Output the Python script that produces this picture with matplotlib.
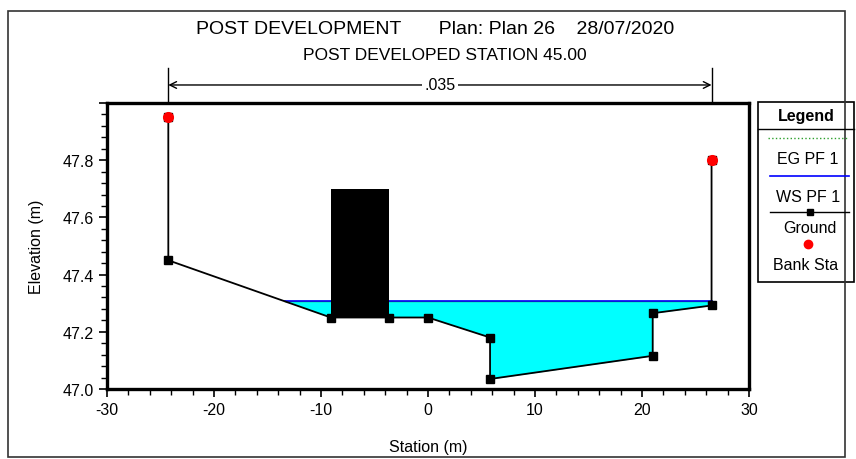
import numpy as np
import matplotlib
matplotlib.use("Agg")
import matplotlib.pyplot as plt
from matplotlib.lines import Line2D
from matplotlib.patches import Rectangle
from matplotlib.ticker import MultipleLocator, FuncFormatter

plt.rcParams['font.family'] = ['Liberation Sans', 'DejaVu Sans']
plt.rcParams['axes.unicode_minus'] = False

# Cross-section ground points (station, elevation)
ground_sta = [-24.27, -24.27, -9.09, -3.67, 0.0, 5.8, 5.8, 21.0, 21.0, 26.5, 26.5]
ground_elev = [47.95, 47.45, 47.25, 47.25, 47.25, 47.18, 47.035, 47.116, 47.265, 47.292, 47.80]

# Bank stations
bank_sta = [-24.27, 26.5]
bank_elev = [47.95, 47.80]

# Water surface and energy grade for profile PF 1
ws_elev = 47.306
eg_elev = 47.309

# Blocked obstruction
obs_sta = [-9.09, -3.67]
obs_bottom = 47.25
obs_top = 47.70

# Manning's n between bank stations
mann_n = ".035"

fig = plt.figure(figsize=(8.56, 4.60), dpi=100)
ax = fig.add_axes([107 / 856, 1 - 390 / 460, (749 - 107) / 856, (390 - 104) / 460])

sta = np.array(ground_sta)
elev = np.array(ground_elev)

# Water fill below the surface
ax.fill_between(sta, elev, ws_elev, where=elev <= ws_elev, interpolate=True,
                color='#00ffff', lw=0, zorder=1)

# Surface extent: from the left-overbank crossing to the right bank
x_left = np.interp(ws_elev, elev[1:3][::-1], sta[1:3][::-1])
ax.plot([x_left, sta[-1]], [eg_elev, eg_elev], color='#2ca02c', lw=1.0, zorder=2)
ax.plot([x_left, sta[-1]], [ws_elev, ws_elev], color='#0000ff', lw=1.2, zorder=2)

# Obstruction block
ax.fill_between(obs_sta, obs_bottom, obs_top, color='black', lw=0, zorder=3)

# Ground line with point markers
ax.plot(sta, elev, color='black', lw=1.3, marker='s', ms=5.5, mfc='black',
        mec='black', zorder=4)
ax.plot(bank_sta, bank_elev, ls='none', marker='o', ms=7, color='#ff0000', zorder=5)

ax.set_xlim(-30, 30)
ax.set_ylim(47.0, 48.0)
ax.xaxis.set_major_locator(MultipleLocator(10))
ax.xaxis.set_minor_locator(MultipleLocator(2))
ax.yaxis.set_major_locator(MultipleLocator(0.2))
ax.yaxis.set_minor_locator(MultipleLocator(0.04))
ax.yaxis.set_major_formatter(FuncFormatter(lambda v, p: '' if v > 47.95 else f'{v:.1f}'))
ax.tick_params(which='major', direction='out', length=6, width=1.2, labelsize=11.5,
               colors='black')
ax.tick_params(which='minor', direction='out', length=4, width=1.0)
for s in ax.spines.values():
    s.set_linewidth(2.4)

ax.set_xlabel('Station (m)', fontsize=11.5, labelpad=16)
ax.set_ylabel('Elevation (m)', fontsize=11.5, labelpad=13)

# Manning's n dimension line above the plot
trans = ax.get_xaxis_transform()
for bx in bank_sta:
    ax.plot([bx, bx], [1.0, 1.122], transform=trans, color='black', lw=1.0,
            clip_on=False)
ax.annotate('', xy=(bank_sta[0], 1.063), xytext=(bank_sta[1], 1.063),
            xycoords=trans, textcoords=trans,
            arrowprops=dict(arrowstyle='<->', color='black', lw=1.0,
                            shrinkA=0, shrinkB=0, mutation_scale=12))
ax.text(np.mean(bank_sta), 1.063, mann_n, transform=trans, ha='center', va='center',
        fontsize=11.5, bbox=dict(facecolor='white', edgecolor='none', pad=1.5))

# Titles
fig.text(435 / 856, 1 - 29 / 460,
         'POST DEVELOPMENT       Plan: Plan 26    28/07/2020',
         ha='center', va='center', fontsize=14)
fig.text(445 / 856, 1 - 55 / 460, 'POST DEVELOPED STATION 45.00',
         ha='center', va='center', fontsize=12.5)

# Legend panel
def fy(y):
    return 1 - y / 460

def fx(x):
    return x / 856

fig.add_artist(Rectangle((fx(758), fy(283)), fx(854) - fx(758), fy(103) - fy(283),
                         transform=fig.transFigure, fill=False, ec='black', lw=1.2))
fig.add_artist(Line2D([fx(758), fx(854)], [fy(130), fy(130)],
                      transform=fig.transFigure, color='black', lw=1.0))
fig.text(fx(806), fy(116), 'Legend', ha='center', va='center', fontsize=11.5,
         fontweight='bold')
fig.add_artist(Line2D([fx(768), fx(848)], [fy(139), fy(139)],
                      transform=fig.transFigure, color='#2ca02c', lw=1.0, ls=':'))
fig.text(fx(808), fy(159), 'EG PF 1', ha='center', va='center', fontsize=11.5)
fig.add_artist(Line2D([fx(770), fx(849)], [fy(177), fy(177)],
                      transform=fig.transFigure, color='#0000ff', lw=1.2))
fig.text(fx(808), fy(197), 'WS PF 1', ha='center', va='center', fontsize=11.5)
fig.add_artist(Line2D([fx(770), fx(849)], [fy(213), fy(213)],
                      transform=fig.transFigure, color='black', lw=1.0))
fig.add_artist(Line2D([fx(810)], [fy(213)], transform=fig.transFigure,
                      marker='s', ms=5, color='black', ls='none'))
fig.text(fx(810), fy(229), 'Ground', ha='center', va='center', fontsize=11.5)
fig.add_artist(Line2D([fx(808)], [fy(245)], transform=fig.transFigure,
                      marker='o', ms=6, color='#ff0000', ls='none'))
fig.text(fx(806), fy(265), 'Bank Sta', ha='center', va='center', fontsize=11.5)

# Outer frame
fig.add_artist(Rectangle((fx(8), fy(458)), fx(845) - fx(8), fy(12) - fy(458),
                         transform=fig.transFigure, fill=False, ec='#333333', lw=1.2))

fig.savefig('out.png', dpi=100)
